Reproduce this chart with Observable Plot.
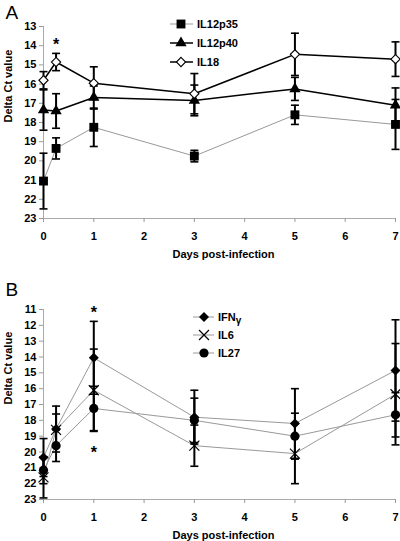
<!DOCTYPE html>
<html><head><meta charset="utf-8">
<script src="https://cdn.jsdelivr.net/npm/d3@7"></script>
<script src="https://cdn.jsdelivr.net/npm/@observablehq/plot@0.6"></script>
<style>
body{margin:0;background:#fff;}
#wrap{position:relative;width:400px;height:541px;font-family:"Liberation Sans",Arial,sans-serif;}
#wrap > svg{display:block}
.legend{position:absolute;left:0;top:0;overflow:visible}
</style></head><body><div id="wrap"></div>
<script>
// ---- data ----
const days = [0, 0.25, 1, 3, 5, 7];
const xTicks = [0, 1, 2, 3, 4, 5, 6, 7];

// Panel A
const yTicksA = [13, 14, 15, 16, 17, 18, 19, 20, 21, 22, 23];
const il12p35 = [21.05, 19.35, 18.25, 19.75, 17.6, 18.1];
const il12p35Err = [1.45, 0.55, 1.0, 0.3, 0.5, 1.3];
const il12p40 = [17.35, 17.4, 16.7, 16.85, 16.25, 17.1];
const il12p40Err = [1.05, 0.9, 0.6, 0.8, 0.6, 0.9];
const il18 = [15.8, 14.85, 15.95, 16.5, 14.45, 14.7];
const il18Err = [0.45, 0.45, 0.85, 1.05, 1.1, 0.9];
const starsA = [{day: 0.25, v: 13.75}];

// Panel B
const yTicksB = [11, 12, 13, 14, 15, 16, 17, 18, 19, 20, 21, 22, 23];
const ifng = [20.35, 18.55, 14.05, 17.8, 18.2, 14.85];
const ifngErr = [1.2, 1.45, 2.3, 1.7, 2.2, 3.2];
const il6 = [21.6, 18.6, 16.1, 19.6, 20.1, 16.35];
const il6Err = [1.3, 1.0, 2.6, 1.3, 1.9, 3.2];
const il27 = [21.15, 19.6, 17.25, 18.0, 19.0, 17.65];
const il27Err = [0.85, 1.0, 1.4, 1.4, 1.45, 1.4];
const starsB = [{day: 1, v: 10.95}, {day: 1, v: 19.8}];

// ---- helpers ----
const capSymbol = {draw(ctx, size) { const w = Math.sqrt(size / Math.PI); ctx.moveTo(-w, 0); ctx.lineTo(w, 0); }};
const diamondSymbol = {draw(ctx, size) { const w = Math.sqrt(size / Math.PI); ctx.moveTo(0, -w); ctx.lineTo(w, 0); ctx.lineTo(0, w); ctx.lineTo(-w, 0); ctx.closePath(); }};
const FONT = '"Liberation Sans", Arial, sans-serif';

function rowsOf(values, err) {
  return values.map((v, i) => ({day: days[i], v, lo: v - err[i], hi: v + err[i]}));
}

function panel({series, yDomain, yTicks, height, marginTop, marginBottom, letter, letterDy, stars}) {
  const marks = [
    Plot.ruleX([0], {stroke: "#aaa", strokeWidth: 1}),
    Plot.ruleY([yDomain[1]], {stroke: "#aaa", strokeWidth: 1}),
    Plot.axisY({ticks: yTicks, tickSize: 4, tickPadding: 3, stroke: "#999", label: null, tickFormat: d => String(d)}),
    Plot.axisX({ticks: xTicks, tickSize: 4, tickPadding: 10, stroke: "#999", label: null, tickFormat: d => String(d)}),
  ];
  for (const s of series) {
    const rows = rowsOf(s.values, s.err);
    marks.push(Plot.line(rows, {x: "day", y: "v", stroke: s.line, strokeWidth: s.lineWidth}));
  }
  for (const s of series) {
    const rows = rowsOf(s.values, s.err);
    marks.push(Plot.ruleX(rows, {x: "day", y1: "lo", y2: "hi", stroke: "black", strokeWidth: 2}));
    marks.push(Plot.dot(rows, {x: "day", y: "lo", symbol: capSymbol, r: 4, stroke: "black", strokeWidth: 1.6, fill: "none"}));
    marks.push(Plot.dot(rows, {x: "day", y: "hi", symbol: capSymbol, r: 4, stroke: "black", strokeWidth: 1.6, fill: "none"}));
  }
  for (const s of series) {
    const rows = rowsOf(s.values, s.err);
    marks.push(Plot.dot(rows, {x: "day", y: "v", symbol: s.symbol, r: s.r, fill: s.fill, stroke: s.stroke, strokeWidth: s.strokeWidth}));
  }
  marks.push(Plot.text(stars, {x: "day", y: "v", text: () => "*", fontSize: 16, dy: 4}));
  marks.push(Plot.text([letter], {frameAnchor: "top-left", dx: -38, dy: letterDy, fontSize: 19, fontWeight: "normal", textAnchor: "start", lineAnchor: "top"}));
  marks.push(Plot.text(["Delta Ct value"], {frameAnchor: "left", dx: -35, rotate: -90, fontSize: 11}));
  marks.push(Plot.text(["Days post-infection"], {frameAnchor: "bottom", dy: 36, dx: 4, fontSize: 11, lineAnchor: "middle"}));
  return Plot.plot({
    width: 400, height, marginTop, marginBottom, marginLeft: 43, marginRight: 5,
    x: {domain: [0, 7]},
    y: {domain: yDomain, reverse: true},
    style: {fontFamily: FONT, fontSize: "11px", fontWeight: "bold", color: "black", background: "white"},
    marks
  });
}

const seriesA = [
  {name: "IL12p35", values: il12p35, err: il12p35Err, line: "#999", lineWidth: 1, symbol: "square", r: 5, fill: "black", stroke: "none", strokeWidth: 0},
  {name: "IL12p40", values: il12p40, err: il12p40Err, line: "black", lineWidth: 1.5, symbol: "triangle", r: 4.2, fill: "black", stroke: "none", strokeWidth: 0},
  {name: "IL18", values: il18, err: il18Err, line: "black", lineWidth: 1.5, symbol: diamondSymbol, r: 4.6, fill: "white", stroke: "black", strokeWidth: 1.1},
];
const seriesB = [
  {name: "IFN", sub: "γ", values: ifng, err: ifngErr, line: "#999", lineWidth: 1, symbol: diamondSymbol, r: 5, fill: "black", stroke: "none", strokeWidth: 0},
  {name: "IL6", values: il6, err: il6Err, line: "#999", lineWidth: 1, symbol: "times", r: 4.6, fill: "none", stroke: "black", strokeWidth: 1.2},
  {name: "IL27", values: il27, err: il27Err, line: "#999", lineWidth: 1, symbol: "circle", r: 4.6, fill: "black", stroke: "none", strokeWidth: 0},
];

const wrap = document.getElementById("wrap");
wrap.appendChild(panel({series: seriesA, yDomain: [13, 23], yTicks: yTicksA, height: 270, marginTop: 26, marginBottom: 52, letter: "A", letterDy: -21, stars: starsA}));
wrap.appendChild(panel({series: seriesB, yDomain: [11, 23], yTicks: yTicksB, height: 271, marginTop: 39, marginBottom: 42, letter: "B", letterDy: -27, stars: starsB}));

// ---- legends ----
const symbolTypes = {square: d3.symbolSquare, triangle: d3.symbolTriangle, times: d3.symbolTimes, circle: d3.symbolCircle};
function legend(series, {x0, x1, xm, xt, ys}) {
  const svg = d3.select(wrap).append("svg").attr("class", "legend").attr("width", 400).attr("height", 541)
    .style("font-family", FONT).style("font-size", "11px").style("font-weight", "bold");
  series.forEach((s, i) => {
    const y = ys[i];
    const type = typeof s.symbol === "string" ? symbolTypes[s.symbol] : s.symbol;
    svg.append("line").attr("x1", x0).attr("x2", x1).attr("y1", y).attr("y2", y).attr("stroke", s.line).attr("stroke-width", s.lineWidth);
    svg.append("path").attr("transform", `translate(${xm},${y})`)
      .attr("d", d3.symbol(type, s.r * s.r * Math.PI)())
      .attr("fill", s.fill).attr("stroke", s.stroke).attr("stroke-width", s.strokeWidth);
    const t = svg.append("text").attr("x", xt).attr("y", y).attr("dy", "0.35em").text(s.name);
    if (s.sub) t.append("tspan").attr("dy", 3).attr("font-size", 10).text(s.sub);
  });
}
legend(seriesA, {x0: 170, x1: 193, xm: 181, xt: 197, ys: [24, 43, 62]});
legend(seriesB, {x0: 193, x1: 214, xm: 204, xt: 218, ys: [317, 335, 353]});
</script></body></html>
